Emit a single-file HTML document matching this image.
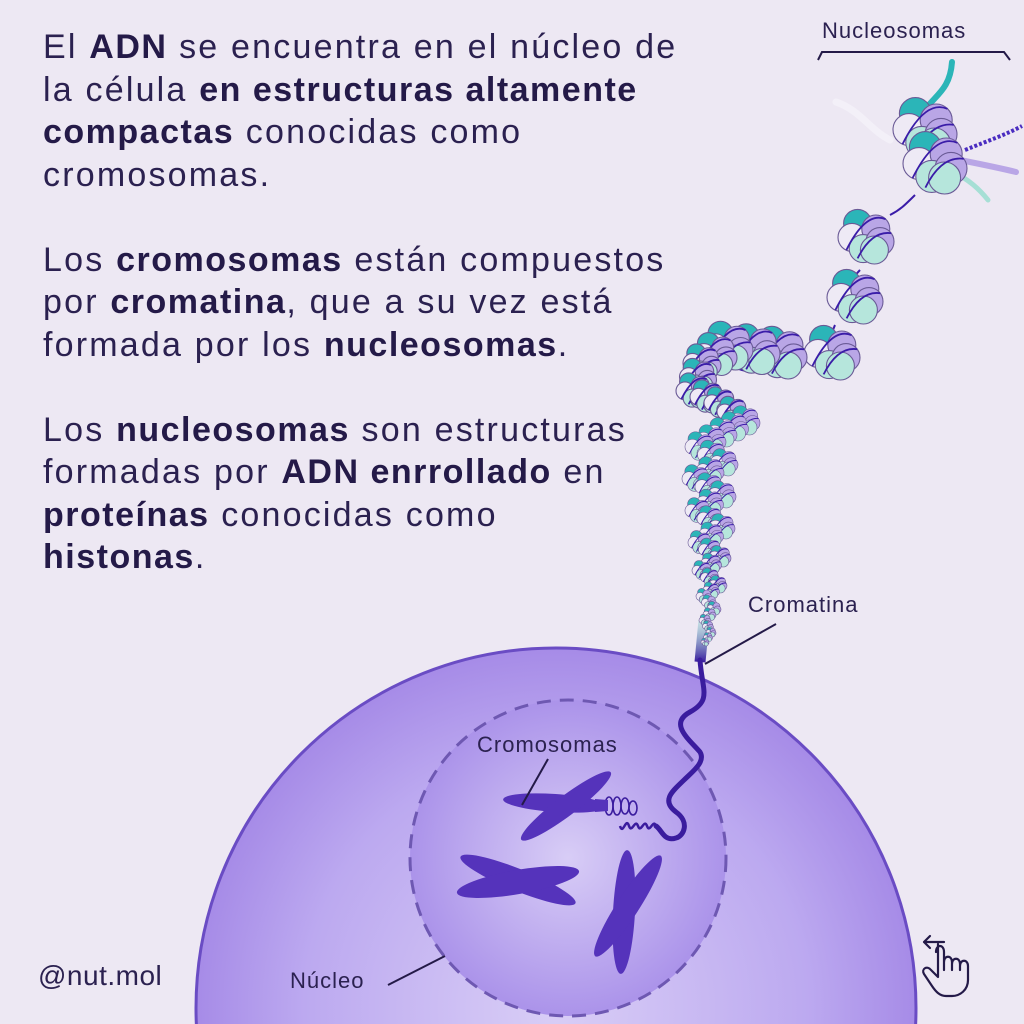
<!DOCTYPE html>
<html><head><meta charset="utf-8"><style>
html,body{margin:0;padding:0;width:1024px;height:1024px;overflow:hidden}
body{position:relative;background:#ede8f3;font-family:"Liberation Sans",sans-serif;color:#2b2150}
#txt{position:absolute;left:43px;top:26px;font-size:34px;line-height:42.5px;letter-spacing:2.2px;white-space:nowrap}
#txt b{font-weight:bold;color:#241a48;letter-spacing:1.5px}
svg{position:absolute;left:0;top:0}
.lbl{position:absolute;font-size:22px;color:#2b2150;letter-spacing:1px;white-space:nowrap}
</style></head><body>
<svg width="1024" height="1024" viewBox="0 0 1024 1024">
<defs>
<radialGradient id="cg" cx="0.5" cy="0.5" r="0.5"><stop offset="0" stop-color="#d9cef6"/><stop offset="0.7" stop-color="#bca9f0"/><stop offset="1" stop-color="#a68be7"/></radialGradient>
<radialGradient id="ng" cx="0.5" cy="0.5" r="0.5"><stop offset="0" stop-color="#d8cdf6"/><stop offset="1" stop-color="#ab93ea"/></radialGradient>
<linearGradient id="fg" x1="0" y1="0" x2="0" y2="1"><stop offset="0" stop-color="#8fd6cf" stop-opacity="0.4"/><stop offset="1" stop-color="#3a1c9e"/></linearGradient>
</defs>
<circle cx="556" cy="1008" r="360" fill="url(#cg)" stroke="#6a4cc4" stroke-width="3"/>
<circle cx="568" cy="858" r="158" fill="url(#ng)" stroke="#6e58b2" stroke-width="3" stroke-dasharray="14 9"/>
<path d="M704 620 L700 662" stroke="url(#fg)" stroke-width="11" fill="none"/>
<path d="M700 660 C702 690 712 700 690 712 C668 724 690 740 700 752 C706 762 692 772 684 780 C674 790 660 800 676 812 C690 822 684 836 676 838 C664 842 662 830 656 826" stroke="#3a1c9e" stroke-width="5" fill="none" stroke-linecap="round"/>
<path d="M656 826 c-3 -8 -6 8 -9 0 c-3 -8 -6 8 -9 0 c-3 -8 -6 8 -9 0 c-3 -10 -6 10 -9 0" stroke="#3a1c9e" stroke-width="2.5" fill="none"/>
<g fill="none" stroke="#3a1c9e" stroke-width="1.6">
<ellipse cx="625" cy="806" rx="4" ry="8"/><ellipse cx="617" cy="806" rx="4" ry="9"/><ellipse cx="609" cy="806" rx="4" ry="9"/><ellipse cx="633" cy="808" rx="4" ry="7"/>
</g>
<g fill="#5533bb">
<ellipse cx="555" cy="803" rx="52" ry="9" transform="rotate(4 555 803)"/>
<ellipse cx="566" cy="806" rx="56" ry="10" transform="rotate(-37 566 806)"/>
<path d="M595 799 L608 800 L608 811 L595 812Z"/>
<ellipse cx="518" cy="880" rx="62" ry="11" transform="rotate(22 518 880)"/>
<ellipse cx="518" cy="882" rx="62" ry="12" transform="rotate(-10 518 882)"/>
<ellipse cx="624" cy="912" rx="62" ry="11" transform="rotate(93 624 912)"/>
<ellipse cx="628" cy="906" rx="60" ry="11" transform="rotate(-57 628 906)"/>
</g>
<g stroke="#241a48" stroke-width="2" fill="none">
<path d="M818 60 L822 52 L1004 52 L1010 60"/>
<path d="M776 624 L705 664"/>
<path d="M548 759 L522 805"/>
<path d="M388 985 L445 956"/>
</g>
<g id="nuc"></g>
<g stroke="#241a48" stroke-width="2.2" fill="none" stroke-linecap="round" stroke-linejoin="round">
<path d="M936 952 c0 -8 8 -8 8 0 v18 M944 962 c0 -7 8 -7 8 0 v8 M952 964 c0 -7 8 -7 8 0 v6 M960 966 c0 -7 8 -7 8 0 v14 c0 10 -8 16 -16 16 h-6 c-6 0 -10 -4 -14 -10 l-8 -12 c-3 -5 3 -9 7 -4 l7 7 v-33"/>
<path d="M944 942 h-20 M930 936 l-6 6 6 6"/>
</g>
</svg>
<div id="txt">El <b>ADN</b> se encuentra en el núcleo de<br>la célula <b>en estructuras altamente</b><br><b>compactas</b> conocidas como<br>cromosomas.<br><br>Los <b>cromosomas</b> están compuestos<br>por <b>cromatina</b>, que a su vez está<br>formada por los <b>nucleosomas</b>.<br><br>Los <b>nucleosomas</b> son estructuras<br>formadas por <b>ADN enrrollado</b> en<br><b>proteínas</b> conocidas como<br><b>histonas</b>.</div>
<div class="lbl" style="left:822px;top:18px">Nucleosomas</div>
<div class="lbl" style="left:748px;top:592px">Cromatina</div>
<div class="lbl" style="left:477px;top:732px">Cromosomas</div>
<div class="lbl" style="left:290px;top:968px">Núcleo</div>
<div class="lbl" style="left:38px;top:960px;font-size:28px;letter-spacing:0.5px">@nut.mol</div>
<script>
(function(){
var ns="http://www.w3.org/2000/svg",g=document.getElementById("nuc");
function el(t,a){var e=document.createElementNS(ns,t);for(var k in a)e.setAttribute(k,a[k]);g.appendChild(e);return e;}
el("path",{d:"M952 62 C950 90 935 95 925 110",stroke:"#2bb5b8","stroke-width":6,fill:"none","stroke-linecap":"round"});
el("path",{d:"M836 102 C860 110 870 130 890 140",stroke:"#f3f0f8","stroke-width":7,fill:"none","stroke-linecap":"round"});
el("path",{d:"M960 160 C985 165 1000 168 1016 172",stroke:"#b9a6e6","stroke-width":6,fill:"none","stroke-linecap":"round"});
el("path",{d:"M950 170 C970 180 980 190 988 200",stroke:"#a6dfd5","stroke-width":5,fill:"none","stroke-linecap":"round"});
el("path",{d:"M965 150 C990 140 1005 135 1022 126",stroke:"#4a2cc0","stroke-width":4,fill:"none","stroke-dasharray":"3 2"});
el("path",{d:"M915 195 C905 205 900 210 890 215 M860 270 C850 280 848 290 850 295 M835 325 C830 335 832 345 830 350 M790 360 C760 380 740 370 730 365",stroke:"#3a1ca8","stroke-width":2,fill:"none"});
var pts=[[925,128,32],[935,162,32],[866,236,28],[855,296,28],[832,352,28],[780,352,27],[728,345,25],[702,362,19],[694,390,18],[720,402,16],[745,420,15],[722,432,15],[700,446,15],[724,462,14],[696,478,14],[722,494,14],[698,510,13],[722,526,13],[700,542,12],[720,556,11],[702,570,10],[718,584,9],[704,596,8],[714,608,7],[705,620,6],[711,632,5],[705,642,4]];
var all=[];
for(var i=0;i<pts.length;i++){all.push(pts[i]);if(i<pts.length-1&&i>=5){var a=pts[i],b=pts[i+1];all.push([(a[0]+b[0])/2,(a[1]+b[1])/2,(a[2]+b[2])/2]);}}
var cols=["#2bb5b8","#eeeaf5","#b9a6e6","#b6e6dc","#b9a6e6","#b6e6dc"];
all.forEach(function(p,idx){
var x=p[0],y=p[1],s=p[2],r=s*0.5;
var off=[[-r*0.6,-r*0.9],[-r*1.0,r*0.1],[r*0.7,-r*0.5],[-r*0.2,r*0.9],[r*1.0,r*0.4],[r*0.6,r*1.0]];
var sw=s>15?1.1:0.6;
for(var j=0;j<6;j++){el("circle",{cx:x+off[j][0],cy:y+off[j][1],r:r,fill:cols[j],stroke:"#6a5a96","stroke-width":sw});}
if(s>8){el("path",{d:"M"+(x-s*0.7)+" "+(y+s*0.5)+" Q"+x+" "+(y-s*0.9)+" "+(x+s*0.7)+" "+(y-s*0.6),stroke:"#3a1ca8","stroke-width":s>15?1.8:1,fill:"none"});
el("path",{d:"M"+(x-s*0.3)+" "+(y+s*0.8)+" Q"+(x+s*0.2)+" "+(y-s*0.2)+" "+(x+s*0.9)+" "+(y-s*0.1),stroke:"#3a1ca8","stroke-width":s>15?1.8:1,fill:"none"});}
});
})();
</script>
</body></html>
